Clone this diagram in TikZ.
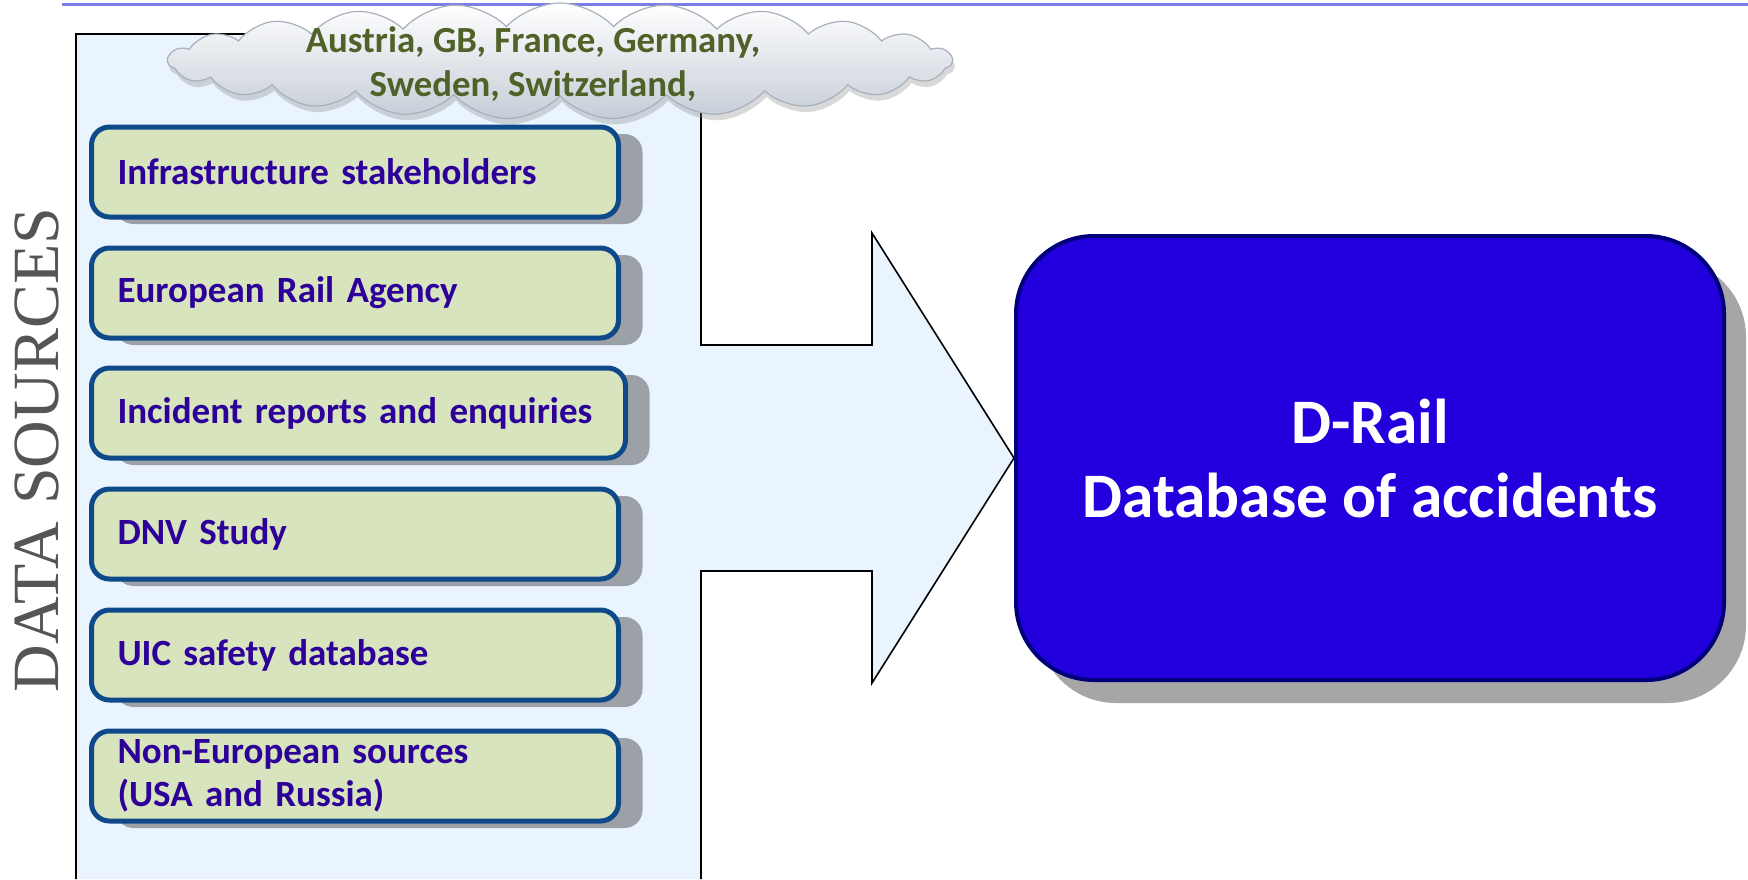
\documentclass[tikz,border=0pt]{standalone}
\usepackage{fontspec}
\setmainfont{Carlito}
\newfontfamily\engraved{Liberation Serif}
\newfontfamily\tightsans[WordSpace=0.8]{Carlito}
\usetikzlibrary{shapes.symbols,shadows}

\definecolor{ruleblue}{HTML}{7D7DEA}
\definecolor{panelfill}{HTML}{EAF4FE}
\definecolor{srcfill}{HTML}{D7E4BD}
\definecolor{srcedge}{HTML}{0E4A8A}
\definecolor{srctext}{HTML}{2D0099}
\definecolor{srcshadow}{HTML}{9CA1A8}
\definecolor{dbfill}{HTML}{2200DD}
\definecolor{dbedge}{HTML}{00007A}
\definecolor{dbshadow}{HTML}{A6A6A6}
\definecolor{cloudtext}{HTML}{4F6228}
\definecolor{cloudlow}{HTML}{C6CDD7}
\definecolor{cloudedge}{HTML}{A8B0BB}
\definecolor{labelgray}{HTML}{555555}

\tikzset{
  topline/.style={draw=ruleblue, line width=1.5pt},
  panel/.style={draw=black, line width=0.8pt, fill=panelfill, line join=miter},
  srcbox/.style={draw=srcedge, line width=2.5pt, fill=srcfill, rounded corners=9pt,
    minimum height=45pt, align=left, inner xsep=13pt, inner ysep=0pt,
    text=srctext, font=\tightsans\bfseries\fontsize{18.5}{21.5}\selectfont,
    drop shadow={shadow xshift=12pt, shadow yshift=-3.5pt, fill=srcshadow, opacity=1}},
  dbbox/.style={draw=dbedge, line width=2pt, fill=dbfill, rounded corners=39pt,
    minimum width=354pt, minimum height=222pt, align=center, text=white,
    font=\bfseries\fontsize{31.7}{37}\selectfont,
    drop shadow={shadow xshift=11pt, shadow yshift=-11.5pt, fill=dbshadow, opacity=1}},
  countries/.style={cloud, cloud puffs=23, cloud puff arc=95, aspect=6.5,
    minimum width=392pt, minimum height=58pt, draw=cloudedge, line width=0.6pt,
    top color=white, middle color=white, bottom color=cloudlow,
    drop shadow={shadow xshift=1pt, shadow yshift=-3pt, fill=gray, opacity=0.3}},
  cloudlabel/.style={align=center, text=cloudtext,
    font=\bfseries\fontsize{18.4}{22}\selectfont},
  sidelabel/.style={rotate=90, text=labelgray, font=\engraved\fontsize{33}{33}\selectfont}
}

\begin{document}
\begin{tikzpicture}[x=0.5pt, y=-0.5pt]
\useasboundingbox (0,0) rectangle (1748,879);

% rule across the top
\draw[topline] (62,4) -- (1748,4);

% light panel that narrows into a wide arrow
\path[panel] (76,879) -- (76,34) -- (701,34) -- (701,345) -- (872,345) -- (872,233)
  -- (1014,458) -- (872,683) -- (872,571) -- (701,571) -- (701,879);

% vertical title
\node[sidelabel] (title) at (37,450) {DATA SOURCES};

% countries cloud
\node[countries] (cloud) at (560,61) {};
\node[cloudlabel] (cloudtxt) at (533,64) {Austria, GB, France, Germany,\\Sweden, Switzerland,};

% data sources
\node[srcbox, text width=237.5pt] (s1) at (355,172) {Infrastructure stakeholders};
\node[srcbox, text width=237.5pt] (s2) at (355,293) {European Rail Agency};
\node[srcbox, text width=241pt]   (s3) at (358.5,413) {Incident reports and enquiries};
\node[srcbox, text width=237.5pt] (s4) at (355,534) {DNV Study};
\node[srcbox, text width=237.5pt] (s5) at (355,655) {UIC safety database};
\node[srcbox, text width=237.5pt] (s6) at (355,776) {Non-European sources\\(USA and Russia)};

% target database
\node[dbbox] (db) at (1370,458) {D-Rail\\Database of accidents};
\end{tikzpicture}
\end{document}
